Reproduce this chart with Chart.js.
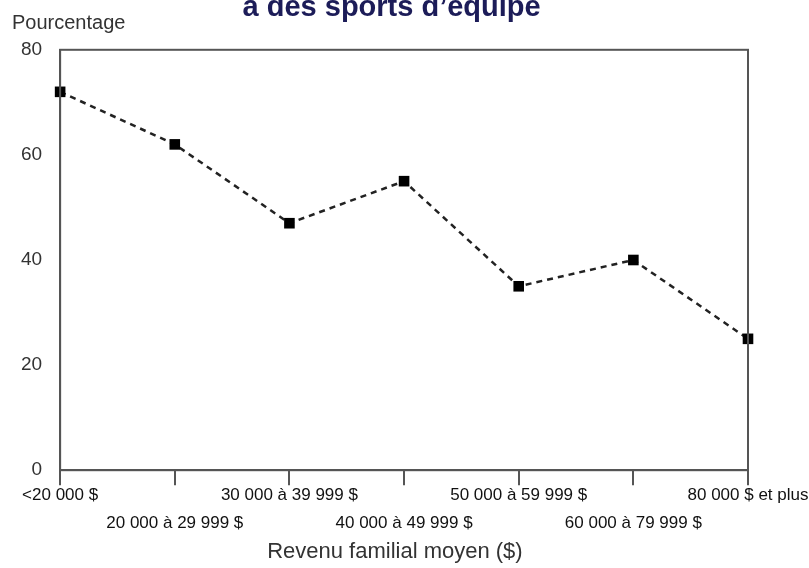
<!DOCTYPE html>
<html>
<head>
<meta charset="utf-8">
<script src="https://cdn.jsdelivr.net/npm/chart.js@4/dist/chart.umd.min.js"></script>
<style>
    body { margin: 0; background: #fff; overflow: hidden; }
    #wrap { position: relative; width: 809px; height: 568px; }
</style>
</head>
<body>
<div id="wrap"><canvas id="incomeChart"></canvas></div>
<script>
// income brackets (shown on two staggered rows)
const categories = ['<20 000 $', '20 000 à 29 999 $', '30 000 à 39 999 $', '40 000 à 49 999 $',
    '50 000 à 59 999 $', '60 000 à 79 999 $', '80 000 $ et plus'];
// percentage per bracket
const percentages = [72, 62, 47, 55, 35, 40, 25];
const yTicks = [0, 20, 40, 60, 80];

const labels = categories.map((c, i) => i % 2 === 0 ? [c, ''] : ['', c]);

// box around the plot + the "Pourcentage" caption
const framePlugin = {
    id: 'frame',
    afterDraw(chart) {
        const { ctx, chartArea } = chart;
        ctx.save();
        ctx.strokeStyle = '#555';
        ctx.lineWidth = 2;
        ctx.strokeRect(chartArea.left, chartArea.top, chartArea.right - chartArea.left, chartArea.bottom - chartArea.top);
        ctx.fillStyle = '#333';
        ctx.font = '20px "Liberation Sans", Arial, sans-serif';
        ctx.textBaseline = 'alphabetic';
        ctx.fillText('Pourcentage', 12, 29);
        ctx.restore();
    }
};

const ctx = document.getElementById('incomeChart').getContext('2d');
const incomeChart = new Chart(ctx, {
    type: 'line',
    data: {
        labels: labels,
        datasets: [{
            label: 'Pourcentage',
            data: percentages,
            borderColor: '#222',
            borderWidth: 2.5,
            borderDash: [6, 5],
            pointStyle: 'rect',
            pointRadius: 7.5,
            pointHoverRadius: 7.5,
            pointBackgroundColor: '#000',
            pointBorderColor: '#000',
            pointBorderWidth: 0,
            tension: 0,
            clip: false
        }]
    },
    options: {
        responsive: true,
        maintainAspectRatio: false,
        animation: false,
        layout: { padding: { left: 3, right: 61, top: 0, bottom: 0 } },
        plugins: {
            legend: { display: false },
            tooltip: { enabled: false },
            title: {
                display: true,
                text: '\u00a0\u00a0\u00a0\u00a0a des sports d’equipe',
                color: '#1c1c58',
                font: { family: '"Liberation Sans", Arial, sans-serif', size: 29, weight: 'bold' },
                padding: { top: -9, bottom: 24 }
            }
        },
        scales: {
            x: {
                offset: false,
                grid: { display: true, drawOnChartArea: false, drawTicks: true, tickLength: 15, color: '#555', lineWidth: 2, offset: false },
                border: { display: true, color: '#555', width: 2 },
                ticks: {
                    autoSkip: false,
                    maxRotation: 0,
                    padding: -3,
                    color: '#111',
                    font: { family: '"Liberation Sans", Arial, sans-serif', size: 17, lineHeight: 1.6 }
                },
                title: {
                    display: true,
                    text: 'Revenu familial moyen ($)\u00a0\u00a0\u00a0',
                    color: '#333',
                    font: { family: '"Liberation Sans", Arial, sans-serif', size: 22 },
                    padding: { top: 5, bottom: 3 }
                }
            },
            y: {
                min: 0,
                max: 80,
                afterBuildTicks: axis => { axis.ticks = yTicks.map(v => ({ value: v })); },
                grid: { display: false, drawTicks: false },
                border: { display: true, color: '#555', width: 2 },
                ticks: {
                    padding: 18,
                    color: '#333',
                    font: { family: '"Liberation Sans", Arial, sans-serif', size: 19 }
                }
            }
        }
    },
    plugins: [framePlugin]
});
</script>
</body>
</html>
